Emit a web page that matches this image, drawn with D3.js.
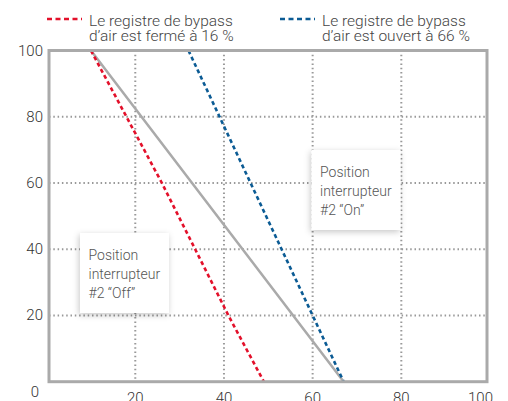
<!DOCTYPE html>
<html>
<head>
<meta charset="utf-8">
<script src="https://cdnjs.cloudflare.com/ajax/libs/d3/7.8.5/d3.min.js"></script>
<style>
  body{margin:0;background:#fff;}
  text{font-family:Roboto,'Liberation Sans',Arial,sans-serif;font-weight:300;}
</style>
</head>
<body>
<div class="canvas"></div>
<script>
//data
const yLevels=[100,80,60,40,20,0];
const redX=[10,18,26,33.5,41,49];      //registre fermé à 16 %
const blueX=[32,39,46,53,60,67];       //registre ouvert à 66 %
const grayX=[10,21.4,32.8,44.2,55.6,67];
const xTicks=[20,40,60,80,100];
const yTicks=[20,40,60,80,100];
const legendLabels=[['Le registre de bypass','d\u2019air est fermé à 16 %'],['Le registre de bypass','d\u2019air est ouvert à 66 %']];
const boxOff=['Position','interrupteur','#2 \u201COff\u201D'];
const boxOn=['Position','interrupteur','#2 \u201COn\u201D'];

const canvas=d3.select('.canvas');
const svg=canvas.append('svg')
    .attr('width',508)
    .attr('height',401);

//shadow for the note boxes
const defs=svg.append('defs');
defs.append('filter')
    .attr('id','shadow')
    .attr('x','-20%').attr('y','-20%').attr('width','140%').attr('height','140%')
  .append('feDropShadow')
    .attr('dx',-1).attr('dy',2)
    .attr('stdDeviation',3)
    .attr('flood-color','#000')
    .attr('flood-opacity',0.22);

//scales
const x=d3.scaleLinear().domain([0,100]).range([46.6,490]);
const y=d3.scaleLinear().domain([0,100]).range([381.7,50.5]);

//grid (dotted)
const grid=svg.append('g');
grid.selectAll('.vg').data(xTicks.slice(0,4)).enter().append('line')
    .attr('x1',d=>x(d)).attr('x2',d=>x(d))
    .attr('y1',y(100)).attr('y2',y(0))
    .attr('stroke','#999').attr('stroke-width',2)
    .attr('stroke-dasharray','1.5,2.8');
grid.selectAll('.hg').data(yTicks.slice(0,4)).enter().append('line')
    .attr('x1',49).attr('x2',487)
    .attr('y1',d=>y(d)).attr('y2',d=>y(d))
    .attr('stroke','#999').attr('stroke-width',2)
    .attr('stroke-dasharray','1.5,2.8');

//lines
const line=d3.line().x(d=>x(d[0])).y(d=>y(d[1]));
svg.append('path')
    .datum(d3.zip(grayX,yLevels))
    .attr('d',line)
    .attr('fill','none').attr('stroke','#aaa').attr('stroke-width',2.5);
svg.append('path')
    .datum(d3.zip(redX,yLevels))
    .attr('d',line)
    .attr('fill','none').attr('stroke','#e3102a').attr('stroke-width',2.6)
    .attr('stroke-dasharray','4,3');
svg.append('path')
    .datum(d3.zip(blueX,yLevels))
    .attr('d',line)
    .attr('fill','none').attr('stroke','#0b5b94').attr('stroke-width',2.6)
    .attr('stroke-dasharray','4,3');

//frame
svg.append('rect')
    .attr('x',49).attr('y',y(100))
    .attr('width',438).attr('height',y(0)-y(100))
    .attr('fill','none').attr('stroke','#aaa').attr('stroke-width',3);

//axis labels
svg.selectAll('.yl').data(yTicks).enter().append('text')
    .attr('x',43).attr('y',d=>y(d)+5)
    .attr('text-anchor','end')
    .attr('font-size',15).attr('fill','#333')
    .text(d=>d);
svg.append('text')
    .attr('x',35).attr('y',397)
    .attr('text-anchor','middle')
    .attr('font-size',15).attr('fill','#333')
    .text(0);
svg.selectAll('.xl').data(xTicks).enter().append('text')
    .attr('x',d=>d===100?x(d)+3:x(d)).attr('y',403)
    .attr('text-anchor',d=>d===100?'end':'middle')
    .attr('font-size',15).attr('fill','#333')
    .text(d=>d);

//legend
const legendX=[47,280];
const legendColors=['#e3102a','#0b5b94'];
legendLabels.forEach((lab,i)=>{
  const g=svg.append('g').attr('transform','translate('+legendX[i]+',0)');
  g.append('line')
      .attr('x1',0).attr('x2',35).attr('y1',19).attr('y2',19)
      .attr('stroke',legendColors[i]).attr('stroke-width',2.6)
      .attr('stroke-dasharray','5,3.5');
  g.selectAll('text').data(lab).enter().append('text')
      .attr('x',42).attr('y',(d,j)=>26+j*15)
      .attr('font-size',15.5).attr('fill','#444')
      .text(d=>d);
});

//note boxes
function note(bx,by,lines){
  const g=svg.append('g').attr('transform','translate('+bx+','+by+')');
  g.append('rect')
      .attr('width',89).attr('height',80)
      .attr('fill','#fff')
      .attr('filter','url(#shadow)');
  g.selectAll('text').data(lines).enter().append('text')
      .attr('x',8.5).attr('y',(d,j)=>27+j*19)
      .attr('font-size',14).attr('fill','#555')
      .text(d=>d);
}
note(80,233,boxOff);
note(311.5,150,boxOn);
</script>
</body>
</html>
